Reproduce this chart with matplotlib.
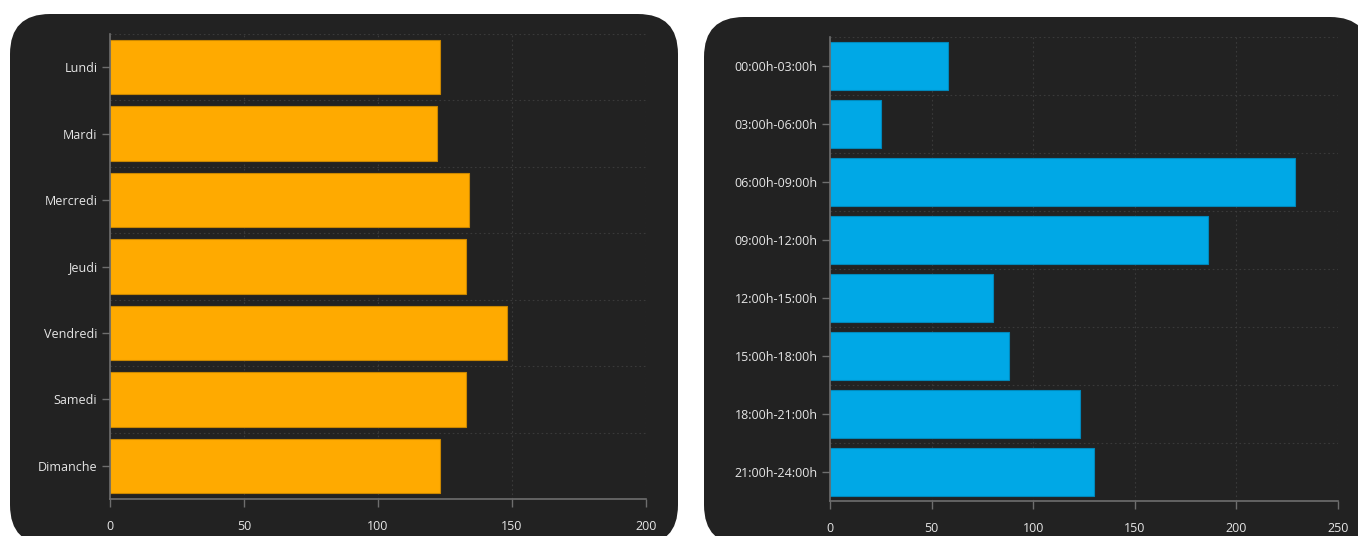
import matplotlib.pyplot as plt
from matplotlib.patches import FancyBboxPatch
from matplotlib.ticker import MultipleLocator

jours = ['Lundi', 'Mardi', 'Mercredi', 'Jeudi', 'Vendredi', 'Samedi', 'Dimanche']
jours_vals = [123, 122, 134, 133, 148, 133, 123]

tranches = ['00:00h-03:00h', '03:00h-06:00h', '06:00h-09:00h', '09:00h-12:00h',
            '12:00h-15:00h', '15:00h-18:00h', '18:00h-21:00h', '21:00h-24:00h']
tranches_vals = [58, 25, 229, 186, 80, 88, 123, 130]

plt.rcParams['font.family'] = ['Open Sans', 'DejaVu Sans']

W, H = 1358, 536
fig = plt.figure(figsize=(W / 100, H / 100), dpi=100)
fig.patch.set_facecolor('white')

# background panels drawn in pixel units
bg = fig.add_axes([0, 0, 1, 1])
bg.set_xlim(0, W)
bg.set_ylim(H, 0)
bg.axis('off')
for x0, y0, w, h in [(10, 14, 668, 531), (704, 17, 666, 528)]:
    bg.add_patch(FancyBboxPatch((x0, y0), w, h, boxstyle='round,pad=0,rounding_size=40',
                                fc='#222222', ec='none'))


def bar_panel(rect, labels, vals, color, edge, xmax):
    ax = fig.add_axes(rect)
    ax.set_facecolor('none')
    ax.barh(range(len(vals)), vals, height=0.82, color=color, edgecolor=edge, linewidth=0.8)
    ax.set_yticks(range(len(labels)))
    ax.set_yticklabels(labels)
    ax.set_ylim(len(labels) - 0.5, -0.5)
    ax.set_xlim(0, xmax)
    ax.xaxis.set_major_locator(MultipleLocator(50))
    ax.yaxis.set_minor_locator(MultipleLocator(1, offset=0.5))
    ax.tick_params(axis='y', which='minor', length=0)
    ax.grid(axis='x', which='major', color='#3a3a3a', linestyle=(0, (1.5, 2.5)), linewidth=0.8)
    ax.grid(axis='y', which='minor', color='#3a3a3a', linestyle=(0, (1.5, 2.5)), linewidth=0.8)
    ax.set_axisbelow(True)
    for s in ['top', 'right']:
        ax.spines[s].set_visible(False)
    for s in ['left', 'bottom']:
        ax.spines[s].set_color('#6e6e6e')
        ax.spines[s].set_linewidth(1.2)
    ax.tick_params(which='major', colors='#6e6e6e', length=6, width=1, labelcolor='#e6e6e6',
                   labelsize=9)
    ax.tick_params(axis='x', pad=9)
    ax.tick_params(axis='y', pad=3)
    return ax


bar_panel([110 / W, 1 - 499 / H, 536 / W, 465 / H], jours, jours_vals, '#ffaa00', '#c98600', 200)
bar_panel([830 / W, 1 - 501 / H, 508 / W, 464 / H], tranches, tranches_vals, '#00a8e6', '#0088bb', 250)

fig.savefig('out.png', dpi=100, facecolor='white')
